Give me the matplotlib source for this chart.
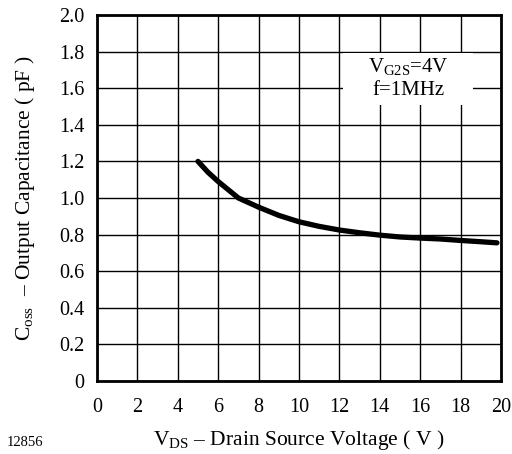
import matplotlib
matplotlib.use("Agg")
import matplotlib.pyplot as plt
from matplotlib.patches import Rectangle

plt.rcParams['font.family'] = ['Liberation Serif']
plt.rcParams['mathtext.fontset'] = 'custom'
plt.rcParams['mathtext.rm'] = 'Liberation Serif'
plt.rcParams['mathtext.it'] = 'Liberation Serif'

vds = [5, 5.5, 6, 7, 8, 9, 10, 11, 12, 13, 14, 15, 16, 17, 18, 19, 19.8]
coss = [1.2, 1.14, 1.09, 1.0, 0.95, 0.905, 0.87, 0.845, 0.825, 0.81, 0.797, 0.787, 0.781, 0.776, 0.768, 0.761, 0.755]
xticks = [0, 2, 4, 6, 8, 10, 12, 14, 16, 18, 20]
yticks = [0, 0.2, 0.4, 0.6, 0.8, 1.0, 1.2, 1.4, 1.6, 1.8, 2.0]
ytick_labels = ["0", "0.2", "0.4", "0.6", "0.8", "1.0", "1.2", "1.4", "1.6", "1.8", "2.0"]

fig = plt.figure(figsize=(5.12, 4.54), dpi=100)
ax = fig.add_axes([97/512, 1 - 381/454, (501-97)/512, (381-15)/454])
ax.set_xlim(0, 20)
ax.set_ylim(0, 2.0)
ax.set_xticks(xticks)
ax.set_yticks(yticks)
ax.set_yticklabels(ytick_labels)
ax.tick_params(length=0, labelsize=14.5)
ax.tick_params(axis='x', pad=12)
ax.tick_params(axis='y', pad=9)
ax.grid(True, color='black', linewidth=1.0)
ax.set_axisbelow(True)
for s in ax.spines.values():
    s.set_linewidth(2.0)

ax.plot(vds, coss, color='black', linewidth=3.8, solid_capstyle='round', zorder=3)

# white label box masking the grid
ax.add_patch(Rectangle((0.609, 0.754), 0.322, 0.142, transform=ax.transAxes,
                       facecolor='white', edgecolor='none', zorder=2))
ax.text(0.77, 0.827, "V$_{\\mathrm{G2S}}$=4V\nf=1MHz", transform=ax.transAxes,
        ha='center', va='center', fontsize=15, linespacing=1.3, zorder=4)

ax.set_xlabel("V$_{\\mathrm{DS}}$ – Drain Source Voltage ( V )", fontsize=15.5, labelpad=8)
ax.set_ylabel("C$_{\\mathrm{oss}}$  – Output Capacitance ( pF )", fontsize=15.5, labelpad=16)
fig.text(7/512, 1 - 442/454, "12856", fontsize=10.5, va='center')

fig.savefig("out.png", dpi=100)
